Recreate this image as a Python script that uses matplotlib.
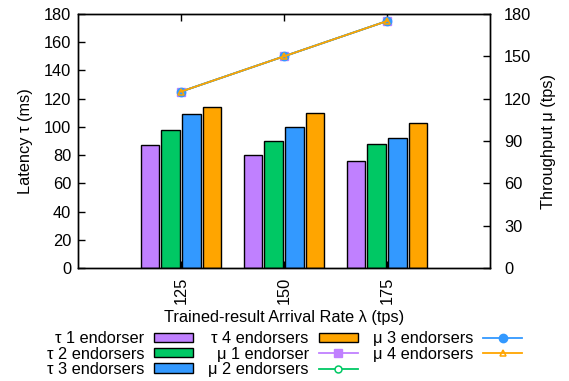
import numpy as np
import matplotlib
matplotlib.use("Agg")
import matplotlib.pyplot as plt

plt.rcParams['font.family'] = ['Liberation Sans', 'DejaVu Sans']
plt.rcParams['font.size'] = 11.8

# ---- data ----
categories = ["125", "150", "175"]
latency_1 = [87, 80, 76]
latency_2 = [98, 90, 88]
latency_3 = [109, 100, 92]
latency_4 = [114, 110, 103]
throughput_1 = [125, 150, 175]
throughput_2 = [125, 150, 175]
throughput_3 = [125, 150, 175]
throughput_4 = [125, 150, 175]

bar_labels = ["τ 1 endorser", "τ 2 endorsers", "τ 3 endorsers", "τ 4 endorsers"]
line_labels = ["μ 1 endorser", "μ 2 endorsers", "μ 3 endorsers", "μ 4 endorsers"]
colors = ["#C080FF", "#00C864", "#3399FF", "#FFA500"]

fig = plt.figure(figsize=(5.69, 3.81), dpi=100)
ax = fig.add_axes([78/569, 1-268/381, (490-78)/569, (268-14)/381])
ax2 = ax.twinx()

x = np.arange(len(categories))
pitch = 0.2
width = 0.18
bar_handles = []
for i, (vals, lab, c) in enumerate(zip([latency_1, latency_2, latency_3, latency_4], bar_labels, colors)):
    h = ax.bar(x + (i - 1.5) * pitch, vals, width, color=c, edgecolor='black', linewidth=1.0, label=lab, zorder=2)
    bar_handles.append(h)

markers = [dict(marker='s', mfc=colors[0], mec=colors[0], ms=5.5),
           dict(marker='o', mfc='white', mec=colors[1], ms=5, mew=1.1),
           dict(marker='o', mfc=colors[2], mec=colors[2], ms=6),
           dict(marker='^', mfc='none', mec=colors[3], ms=5, mew=1.1)]
line_handles = []
for vals, lab, c, m in zip([throughput_1, throughput_2, throughput_3, throughput_4], line_labels, colors, markers):
    h, = ax2.plot(x, vals, color=c, linewidth=1.3, label=lab, **m)
    line_handles.append(h)

ax.set_xlim(-1, 3)
ax.set_ylim(0, 180)
ax.set_yticks(np.arange(0, 181, 20))
ax2.set_ylim(0, 180)
ax2.set_yticks(np.arange(0, 181, 30))
ax.set_xticks(x)
ax.set_xticklabels(categories, rotation=90)

ax.tick_params(axis='x', direction='in', top=True, bottom=True, length=5, width=1.0, pad=6)
ax.tick_params(axis='y', direction='in', left=True, right=False, length=5, width=1.0, pad=5)
ax2.tick_params(axis='y', direction='in', right=True, length=5, width=1.0, pad=10)
for a in (ax, ax2):
    for s in a.spines.values():
        s.set_linewidth(1.0)

ax.set_xlabel("Trained-result Arrival Rate λ (tps)")
ax.xaxis.set_label_coords(0.5, -0.166)
ax.set_ylabel("Latency τ (ms)")
ax.yaxis.set_label_coords(-0.109, 0.5)
ax2.set_ylabel("Throughput μ (tps)")
ax2.yaxis.set_label_coords(1.124, 0.5)

handles = bar_handles + line_handles
labels = bar_labels + line_labels
fig.legend(handles, labels, ncol=3, markerfirst=False, frameon=False,
           loc='upper center', bbox_to_anchor=(284.5/569, 1-323/381),
           borderpad=0, handlelength=2.4, handleheight=0.5, handletextpad=0.6,
           columnspacing=0.9, labelspacing=0.02)

fig.savefig("out.png", dpi=100)
